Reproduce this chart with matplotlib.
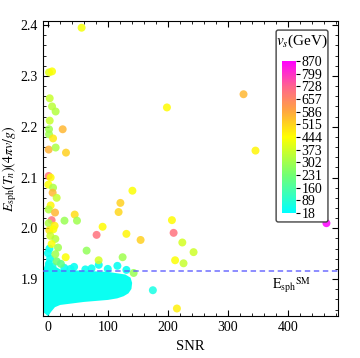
import matplotlib
matplotlib.use("Agg")
import matplotlib.pyplot as plt
import numpy as np
from matplotlib.colors import LinearSegmentedColormap, Normalize
from matplotlib.patches import FancyBboxPatch
from matplotlib.ticker import MultipleLocator

plt.rcParams['font.family'] = ['Liberation Serif', 'DejaVu Serif']
plt.rcParams['mathtext.fontset'] = 'stix'

# scattered points: SNR, E_sph, v_s (GeV)
snr = [56.5, 2.3, 7.3, 3.4, 7.3, 13.3, 3.4, 2.3, 25, 2.3, 9, 1.7, 13.3, 30.5,
       1.7, 5, 1.2, 9, 8.3, 15, 141, 5, 121, 1.7, 12.3, 118, 45, 6.6, 28, 48.8,
       1.7, 11.6, 91.4, 2.8, 9.5, 81.4, 131, 154.6, 4.5, 12.8, 6.6, 17.3, 64.8,
       30, 84.8, 124.7, 143, 12.8, 209.5, 224, 242.7, 212, 226, 175, 215,
       198.4, 206.7, 325.8, 454, 345.7, 463.7]
esph = [2.395, 2.307, 2.309, 2.256, 2.240, 2.230, 2.212, 2.195, 2.195, 2.185,
        2.177, 2.155, 2.159, 2.149, 2.103, 2.100, 2.086, 2.080, 2.070, 2.060,
        2.074, 2.045, 2.050, 2.037, 2.031, 2.032, 2.027, 2.016, 2.015, 2.015,
        2.010, 2.005, 2.003, 1.996, 1.998, 1.987, 1.989, 1.977, 1.985, 1.979,
        1.969, 1.962, 1.956, 1.943, 1.937, 1.943, 1.912, 1.949, 1.991, 1.972,
        1.953, 1.937, 1.931, 1.878, 1.842, 2.238, 2.016, 2.264, 2.214, 2.153,
        2.010]
vs = [430, 400, 440, 360, 340, 330, 360, 300, 560, 300, 480, 570, 320, 520,
      690, 450, 440, 320, 560, 360, 440, 460, 520, 330, 560, 510, 500, 700,
      290, 300, 320, 470, 450, 490, 440, 700, 460, 520, 370, 330, 440, 300,
      280, 440, 380, 300, 290, 300, 700, 380, 370, 440, 360, 60, 470, 450,
      450, 560, 530, 460, 870]

# outline of the dense low-v_s cloud
blob_snr = [-3, 0, 3, 10, 20, 40, 60, 80, 100, 115, 125, 132, 136, 137, 135,
            128, 100, 60, 20, 5, 0, -3]
blob_esph = [1.836, 1.833, 1.838, 1.848, 1.853, 1.856, 1.859, 1.861, 1.863,
             1.866, 1.870, 1.875, 1.882, 1.892, 1.900, 1.905, 1.910, 1.912,
             1.915, 1.925, 1.930, 1.920]

# low-v_s dots sticking out of the cloud top
edge_snr = [3, 0.5, 4, 2, 8, 27.8, 44, 62.7, 73, 85, 116, 131, 15, 22, 100, 38]
edge_esph = [1.960, 1.951, 1.940, 1.930, 1.925, 1.922, 1.924, 1.919, 1.921,
             1.928, 1.926, 1.918, 1.935, 1.930, 1.920, 1.920]
edge_vs = [40, 40, 40, 40, 60, 40, 40, 40, 40, 40, 40, 40, 230, 200, 40, 40]

esph_sm = 1.916
vs_ticks = [18, 89, 160, 231, 302, 373, 444, 515, 586, 657, 728, 799, 870]

cmap = LinearSegmentedColormap.from_list("vs", [
    (0.0, (0.0, 1.0, 1.0)),
    (0.25, (0.45, 1.0, 0.45)),
    (0.5, (1.0, 1.0, 0.0)),
    (0.67, (1.0, 0.65, 0.25)),
    (0.83, (1.0, 0.4, 0.55)),
    (1.0, (1.0, 0.0, 1.0))])
norm = Normalize(18, 870)

fig = plt.figure(figsize=(3.6, 3.58), dpi=100)
ax = fig.add_axes([0.119, 0.117, 0.82, 0.824])

ax.fill(blob_snr, blob_esph, color=cmap(norm(40)), lw=3,
        edgecolor=cmap(norm(40)), zorder=2)
ax.scatter(edge_snr, edge_esph, c=edge_vs, cmap=cmap, norm=norm, s=33,
           linewidths=0, alpha=0.9, zorder=3)
ax.scatter(snr, esph, c=vs, cmap=cmap, norm=norm, s=33, linewidths=0,
           alpha=0.85, zorder=3)

ax.axhline(esph_sm, color='#5a5aff', ls=(0, (3, 2)), lw=1.3, alpha=0.75,
           zorder=4)
ax.text(373, 1.881, r'$\mathrm{E_{sph}}^{\mathrm{SM}}$', fontsize=10)

ax.set_xlim(-8, 483)
ax.set_ylim(1.827, 2.408)
ax.set_xticks([0, 100, 200, 300, 400])
ax.set_yticks([1.9, 2.0, 2.1, 2.2, 2.3, 2.4])
ax.xaxis.set_minor_locator(MultipleLocator(20))
ax.yaxis.set_minor_locator(MultipleLocator(0.02))
ax.tick_params(which='both', direction='in', top=True, right=True,
               labelsize=10)
ax.tick_params(which='major', length=4)
ax.tick_params(which='minor', length=2)
ax.set_xlabel('SNR', fontsize=10.5)
ax.set_ylabel(r'$E_{\rm sph}(T_n)(4\pi v/g)$', fontsize=10, labelpad=1)

# legend frame with colour bar (drawn inside the main axes, below the bar)
box = FancyBboxPatch((0.767, 0.380), 0.144, 0.536, transform=fig.transFigure,
                     boxstyle="round,pad=0,rounding_size=0.006",
                     facecolor='white', edgecolor='#444444', lw=1.0,
                     zorder=6, clip_on=False)
ax.add_patch(box)
ax.text(0.839, 0.885, r'$v_s$(GeV)', transform=fig.transFigure,
        ha='center', va='center', fontsize=11, zorder=7)
cax = fig.add_axes([0.783, 0.405, 0.039, 0.425])
cb = fig.colorbar(plt.cm.ScalarMappable(norm=norm, cmap=cmap), cax=cax,
                  ticks=vs_ticks)
cb.outline.set_visible(False)
cb.ax.tick_params(labelsize=10, length=3, pad=1)

fig.savefig("out.png", dpi=100)
